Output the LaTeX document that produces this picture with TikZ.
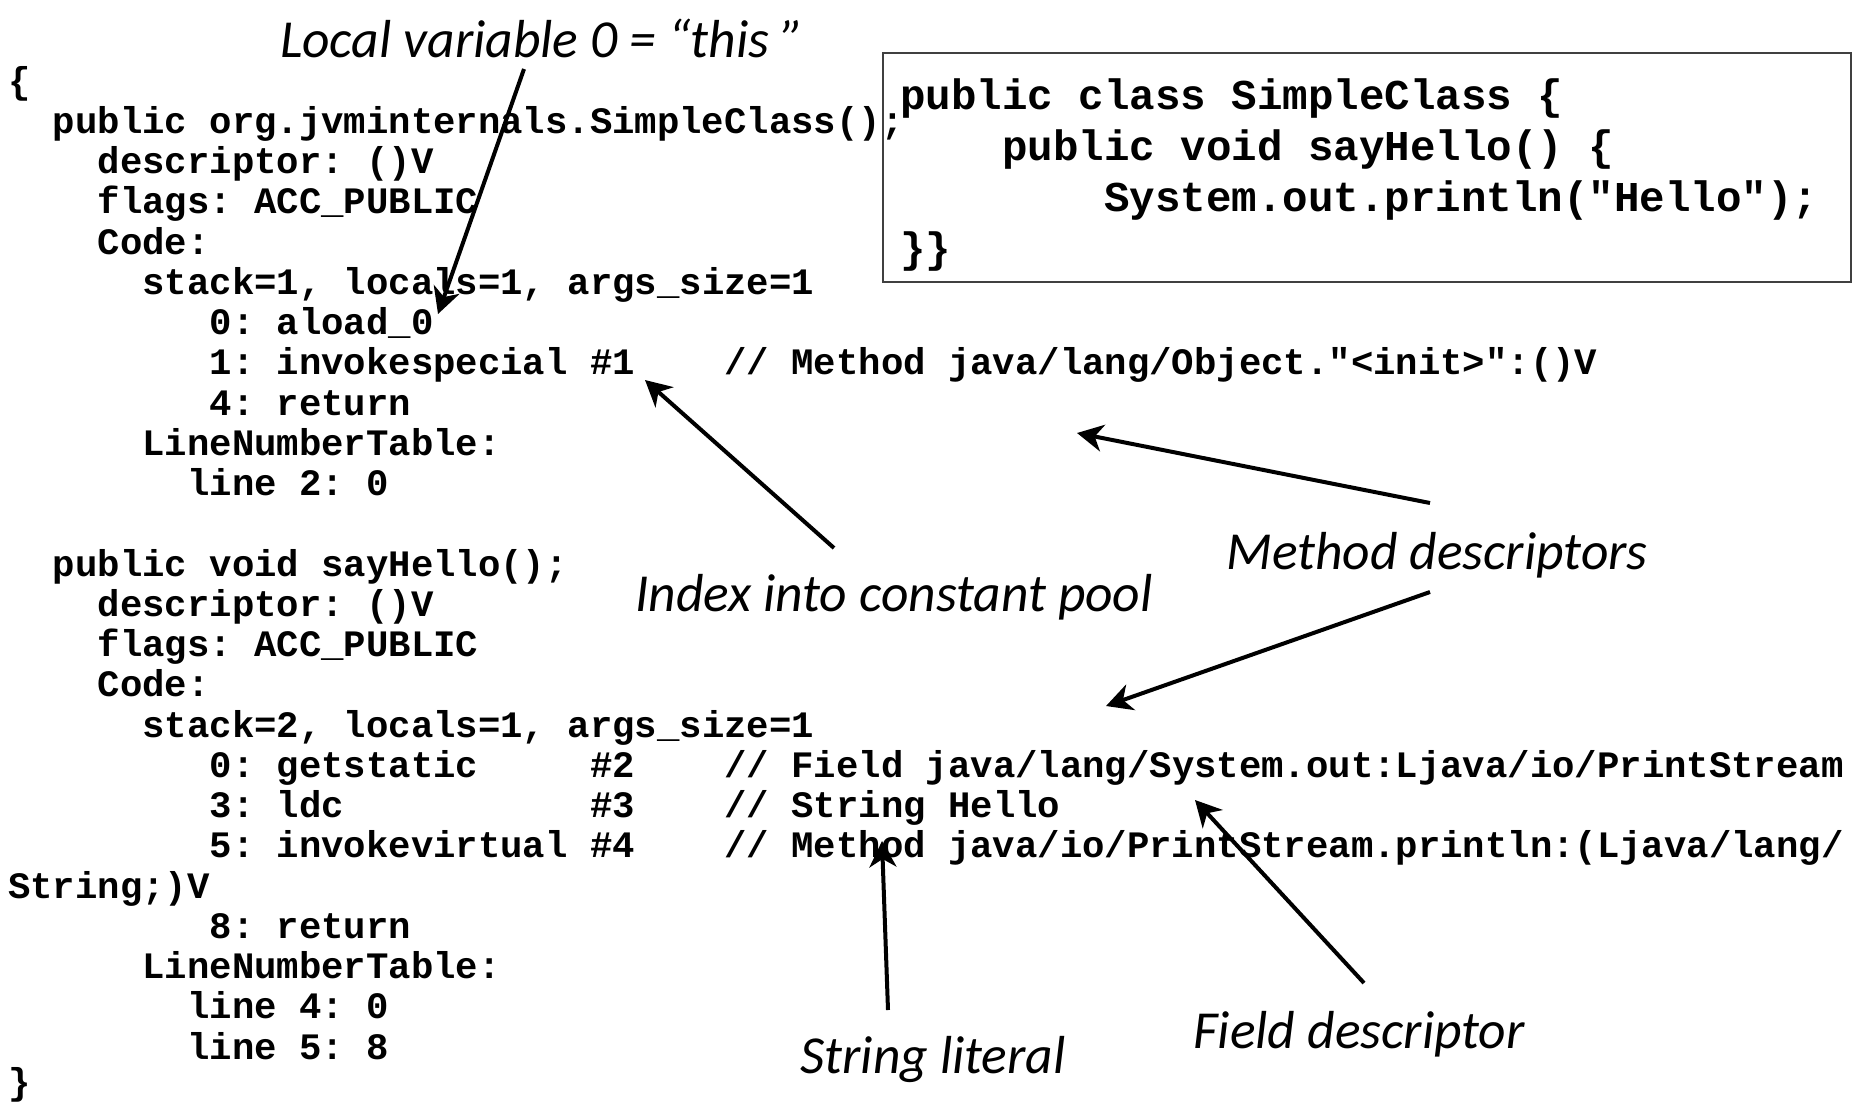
\documentclass[tikz,border=0pt]{standalone}
\usepackage{fontspec}
\newfontfamily\codefont{Liberation Mono}
\newfontfamily\notefont{Carlito}
\usetikzlibrary{arrows.meta}

% one line of the javap listing, k = line number
\newcommand\listline[3]{\node[code] (#2) at (8,{93+40.25*#1}) {#3};}
% one line of the Java source in the frame
\newcommand\srcline[3]{\node[src] (#2) at (900,{109+51*#1}) {#3};}

\begin{document}
\begin{tikzpicture}[x=1pt,y=-1pt,
  code/.style={anchor=base west, inner sep=0pt,
    font=\codefont\bfseries\fontsize{37.3}{40}\selectfont\frenchspacing},
  src/.style={anchor=base west, inner sep=0pt,
    font=\codefont\bfseries\fontsize{42.5}{50}\selectfont\frenchspacing},
  note/.style={inner sep=0pt, font=\notefont\itshape\fontsize{53.5}{60}\selectfont},
  pointer/.style={line width=4pt, -{Stealth[length=26pt,width=27pt,inset=8pt]}},
  srcbox/.style={draw=black!75, line width=1.6pt, inner sep=0pt}]
\useasboundingbox (0,0) rectangle (1868,1103);

% javap -v output
\listline{0}{c0}{\{}
\listline{1}{c1}{~~public org.jvminternals.SimpleClass();}
\listline{2}{c2}{~~~~descriptor: ()V}
\listline{3}{c3}{~~~~flags: ACC\_PUBLIC}
\listline{4}{c4}{~~~~Code:}
\listline{5}{c5}{~~~~~~stack=1, locals=1, args\_size=1}
\listline{6}{c6}{~~~~~~~~~0: aload\_0}
\listline{7}{c7}{~~~~~~~~~1: invokespecial \#1~~~~// Method java/lang/Object."<init>":()V}
\listline{8}{c8}{~~~~~~~~~4: return}
\listline{9}{c9}{~~~~~~LineNumberTable:}
\listline{10}{c10}{~~~~~~~~line 2: 0}
\listline{12}{c12}{~~public void sayHello();}
\listline{13}{c13}{~~~~descriptor: ()V}
\listline{14}{c14}{~~~~flags: ACC\_PUBLIC}
\listline{15}{c15}{~~~~Code:}
\listline{16}{c16}{~~~~~~stack=2, locals=1, args\_size=1}
\listline{17}{c17}{~~~~~~~~~0: getstatic~~~~~\#2~~~~// Field java/lang/System.out:Ljava/io/PrintStream}
\listline{18}{c18}{~~~~~~~~~3: ldc~~~~~~~~~~~\#3~~~~// String Hello}
\listline{19}{c19}{~~~~~~~~~5: invokevirtual \#4~~~~// Method java/io/PrintStream.println:(Ljava/lang/}
\listline{20}{c20}{String;)V}
\listline{21}{c21}{~~~~~~~~~8: return}
\listline{22}{c22}{~~~~~~LineNumberTable:}
\listline{23}{c23}{~~~~~~~~line 4: 0}
\listline{24}{c24}{~~~~~~~~line 5: 8}
% closing brace sits a little higher so it stays on the page
\node[code] (c25) at (8,1094) {\}};

% Java source in a frame
\node[srcbox, minimum width=968pt, minimum height=229pt, anchor=north west] (frame) at (882,52) {};
\srcline{0}{s0}{public class SimpleClass \{}
\srcline{1}{s1}{~~~~public void sayHello() \{}
\srcline{2}{s2}{~~~~~~~~System.out.println("Hello");}
\srcline{3}{s3}{\}\}}

% annotations
\node[note] (lv)  at (542,38)   {Local variable 0 = “this ”};
\node[note] (idx) at (894,597)  {Index into constant pool};
\node[note] (md)  at (1437,555) {Method descriptors};
\node[note] (sl)  at (933,1059) {String literal};
\node[note] (fd)  at (1359,1034) {Field descriptor};

\coordinate (lvA)  at (524,69);   \coordinate (lvB)  at (438,314);
\coordinate (idxA) at (834,548);  \coordinate (idxB) at (645,380);
\coordinate (mdA)  at (1430,503); \coordinate (mdB)  at (1077,433);
\coordinate (mdC)  at (1430,592); \coordinate (mdD)  at (1106,706);
\coordinate (slA)  at (888,1010); \coordinate (slB)  at (882,841);
\coordinate (fdA)  at (1364,983); \coordinate (fdB)  at (1195,800);

\draw[pointer] (lvA)  -- (lvB);
\draw[pointer] (idxA) -- (idxB);
\draw[pointer] (mdA)  -- (mdB);
\draw[pointer] (mdC)  -- (mdD);
\draw[pointer] (slA)  -- (slB);
\draw[pointer] (fdA)  -- (fdB);
\end{tikzpicture}
\end{document}
